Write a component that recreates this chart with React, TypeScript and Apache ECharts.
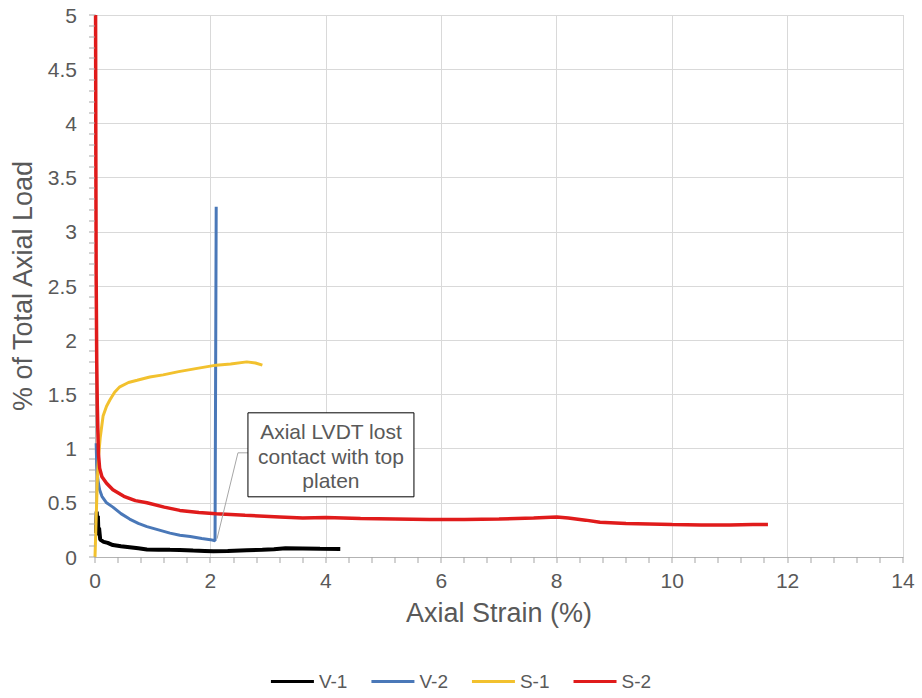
import React, { useEffect, useRef } from "react";
import * as echarts from "echarts";

// Axial strain (%) vs. % of total axial load, four specimens
const v1: [number, number][] = [
  [0.02, 0.22], [0.03, 0.42], [0.04, 0.3], [0.05, 0.38], [0.06, 0.2], [0.07, 0.27],
  [0.09, 0.16], [0.15, 0.14], [0.22, 0.13], [0.31, 0.11], [0.45, 0.1], [0.6, 0.09],
  [0.75, 0.08], [0.9, 0.07], [1.1, 0.068], [1.3, 0.066], [1.47, 0.065], [1.7, 0.06],
  [1.9, 0.056], [2.05, 0.052], [2.3, 0.055], [2.63, 0.062], [2.9, 0.066], [3.1, 0.072],
  [3.3, 0.08], [3.6, 0.078], [3.9, 0.076], [4.25, 0.074],
];

const v2: [number, number][] = [
  [0.02, 1.05], [0.03, 0.85], [0.05, 0.71], [0.08, 0.62], [0.12, 0.56], [0.2, 0.5],
  [0.31, 0.46], [0.45, 0.4], [0.6, 0.35], [0.75, 0.31], [0.9, 0.28], [1.1, 0.25],
  [1.3, 0.22], [1.47, 0.2], [1.65, 0.19], [1.85, 0.17], [2.0, 0.16], [2.08, 0.15],
  [2.1, 3.23],
];

const s1: [number, number][] = [
  [0.0, 0.0], [0.02, 0.35], [0.04, 0.7], [0.06, 0.92], [0.09, 1.1], [0.14, 1.3],
  [0.2, 1.39], [0.26, 1.45], [0.34, 1.52], [0.43, 1.57], [0.58, 1.61], [0.73, 1.63],
  [0.95, 1.66], [1.18, 1.68], [1.45, 1.71], [1.77, 1.74], [2.1, 1.77], [2.35, 1.78],
  [2.63, 1.8], [2.78, 1.79], [2.9, 1.77],
];

const s2: [number, number][] = [
  [0.01, 5.0], [0.015, 3.6], [0.02, 2.6], [0.03, 1.8], [0.04, 1.4], [0.05, 1.15],
  [0.06, 0.95], [0.08, 0.82], [0.12, 0.74], [0.2, 0.68], [0.31, 0.62], [0.5, 0.56],
  [0.7, 0.52], [0.9, 0.5], [1.2, 0.46], [1.47, 0.43], [1.8, 0.41], [2.1, 0.4],
  [2.6, 0.385], [3.2, 0.37], [3.6, 0.36], [4.0, 0.365], [4.6, 0.355], [5.2, 0.35],
  [5.8, 0.345], [6.4, 0.345], [7.0, 0.35], [7.6, 0.36], [8.0, 0.37], [8.2, 0.36],
  [8.5, 0.34], [8.75, 0.32], [9.2, 0.31], [9.6, 0.305], [10.0, 0.3], [10.5, 0.295],
  [11.0, 0.295], [11.4, 0.3], [11.66, 0.3],
];

const seriesNames = ["V-1", "V-2", "S-1", "S-2"];
const seriesColors = ["#000000", "#4a78b8", "#f2c12e", "#e01b1b"];
const seriesData = [v1, v2, s1, s2];
const seriesWidths = [4, 3, 3, 3.5];

// axis ranges: major step and minor step
const xRange = { min: 0, max: 14, major: 2, minor: 0.4 };
const yRange = { min: 0, max: 5, major: 0.5, minor: 0.1 };

const annotationLines = ["Axial LVDT lost", "contact with top", "platen"];
// point on V-2 where the leader line ends
const annotationTarget: [number, number] = [2.08, 0.15];

const textColor = "#595959";
const axisColor = "#b3b3b3";
const tickColor = "#a6a6a6";
const fontFamily = "'Liberation Sans', Arial, sans-serif";

function tickValues(r: { min: number; max: number; minor: number }) {
  const out: number[] = [];
  const n = Math.round((r.max - r.min) / r.minor);
  for (let i = 0; i <= n; i++) out.push(+(r.min + i * r.minor).toFixed(4));
  return out;
}

export default function App() {
  const ref = useRef<HTMLDivElement>(null);

  useEffect(() => {
    if (!ref.current) return;
    const chart = echarts.init(ref.current, undefined, { renderer: "svg" });

    const axisCommon = {
      axisLine: { show: true, lineStyle: { color: axisColor, width: 1 } },
      axisTick: { show: false },
      minorTick: { show: false },
      splitLine: { show: true, lineStyle: { color: "#d9d9d9", width: 1 } },
      axisLabel: { color: textColor, fontSize: 21, fontFamily },
      nameTextStyle: { color: textColor, fontSize: 27, fontFamily },
    };

    chart.setOption({
      animation: false,
      backgroundColor: "#ffffff",
      grid: { left: 95, right: 19, top: 15, bottom: 141, containLabel: false },
      xAxis: {
        type: "value",
        min: xRange.min,
        max: xRange.max,
        interval: xRange.major,
        name: "Axial Strain (%)",
        nameLocation: "middle",
        nameGap: 42,
        ...axisCommon,
        axisLabel: { ...axisCommon.axisLabel, margin: 13 },
      },
      yAxis: {
        type: "value",
        min: yRange.min,
        max: yRange.max,
        interval: yRange.major,
        name: "% of Total Axial Load",
        nameLocation: "middle",
        nameGap: 59,
        ...axisCommon,
        axisLabel: { ...axisCommon.axisLabel, margin: 18 },
      },
      legend: {
        top: 667,
        left: "center",
        itemWidth: 43,
        itemHeight: 3,
        itemGap: 24,
        icon: "rect",
        textStyle: { color: textColor, fontSize: 19, fontFamily },
        data: seriesNames,
      },
      series: seriesNames.map((name, i) => ({
        name,
        type: "line",
        data: seriesData[i],
        symbol: "none",
        color: seriesColors[i],
        lineStyle: { width: seriesWidths[i], color: seriesColors[i] },
        clip: true,
        z: 3 + i,
      })),
    });

    const toPx = (pt: [number, number]) =>
      chart.convertToPixel({ gridIndex: 0 }, pt) as number[];

    // tick marks on both axes, positioned through the axis scales
    const tickLen = 6;
    const xTicks = tickValues(xRange).map((v) => {
      const p = toPx([v, yRange.min]);
      return {
        type: "rect",
        shape: { x: Math.round(p[0]) - 0.5, y: Math.round(p[1]), width: 1, height: tickLen },
        style: { fill: tickColor },
        silent: true,
        z: 15,
      };
    });
    const yTicks = tickValues(yRange).map((v) => {
      const p = toPx([xRange.min, v]);
      return {
        type: "rect",
        shape: { x: Math.round(p[0]) - tickLen, y: Math.round(p[1]) - 0.5, width: tickLen, height: 1 },
        style: { fill: tickColor },
        silent: true,
        z: 15,
      };
    });

    // leader + callout box, placed from data coordinates
    const tip = toPx(annotationTarget);
    const boxTopLeft = toPx([2.65, 1.33]);
    const boxW = 166;
    const boxH = 84;
    const bx = boxTopLeft[0];
    const by = boxTopLeft[1];
    const elbowY = by + 40;

    chart.setOption({
      graphic: [
        ...xTicks,
        ...yTicks,
        {
          type: "polyline",
          shape: { points: [[bx, elbowY], [bx - 10, elbowY], [tip[0] + 2, tip[1] - 2]] },
          style: { stroke: "#a6a6a6", lineWidth: 1, fill: "none" },
          z: 20,
        },
        {
          type: "rect",
          shape: { x: bx, y: by, width: boxW, height: boxH },
          style: { fill: "#ffffff", stroke: "#000000", lineWidth: 1 },
          z: 20,
        },
        ...annotationLines.map((line, i) => ({
          type: "text",
          x: bx + boxW / 2,
          y: by + 19 + i * 24.5,
          style: {
            text: line,
            fill: textColor,
            fontSize: 21,
            fontFamily,
            align: "center",
            verticalAlign: "middle",
          },
          z: 21,
        })),
      ],
    });

    return () => chart.dispose();
  }, []);

  return (
    <div
      ref={ref}
      style={{ position: "absolute", left: 0, top: 0, width: 922, height: 698 }}
    />
  );
}
